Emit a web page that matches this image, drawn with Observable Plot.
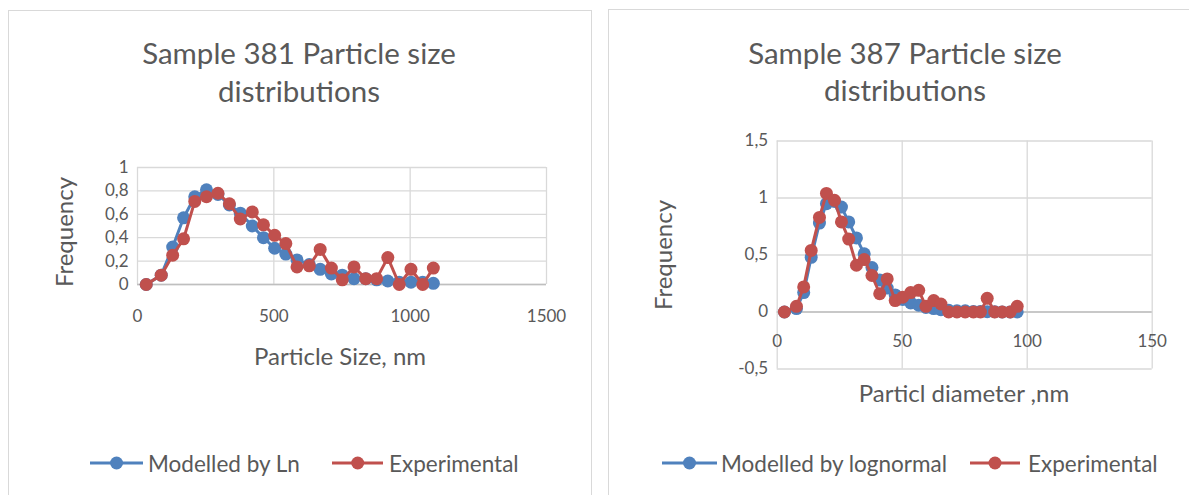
<!DOCTYPE html>
<html>
<head>
<meta charset="utf-8">
<script src="https://cdn.jsdelivr.net/npm/d3@7"></script>
<script src="https://cdn.jsdelivr.net/npm/@observablehq/plot@0.6"></script>
<style>
  body { margin: 0; background: #fff; width: 1189px; height: 495px; overflow: hidden; position: relative;
         font-family: Lato, "Open Sans", sans-serif; color: #595959; }
  .panel { position: absolute; border: 1px solid #d9d9d9; background: #fff; }
  .t { position: absolute; white-space: nowrap; transform: translate(-50%, -50%); }
  .title { font-size: 29.5px; }
  .axt { font-size: 24px; }
  .rot { transform: translate(-50%, -50%) rotate(-90deg); }
  .leg { position: absolute; font-size: 22.5px; white-space: nowrap; transform: translateY(-50%); }
  .sw { position: absolute; }
  .chart { position: absolute; }
</style>
</head>
<body>
<div class="panel" style="left:8px;top:10px;width:582px;height:500px"></div>
<div class="panel" style="left:608px;top:9px;width:600px;height:500px"></div>

<div class="t title" style="left:299px;top:52px">Sample 381 Particle size</div>
<div class="t title" style="left:299px;top:90px">distributions</div>
<div class="t title" style="left:905px;top:52px">Sample 387 Particle size</div>
<div class="t title" style="left:905px;top:89px">distributions</div>

<div class="t axt rot" style="left:63px;top:232px">Frequency</div>
<div class="t axt" style="left:340px;top:355px">Particle Size, nm</div>
<div class="t axt rot" style="left:662px;top:255px">Frequency</div>
<div class="t axt" style="left:964px;top:392px">Particl diameter ,nm</div>

<div id="left" class="chart" style="left:8px;top:130px"></div>
<div id="right" class="chart" style="left:610px;top:110px"></div>

<div id="legends"></div>

<script>
// Sample 381: particle size (nm) with modelled (Ln) and experimental frequencies
const size381 = [32, 87, 129, 169, 210, 253, 295, 337, 377, 421, 462, 503, 544, 585, 630, 670, 711, 751, 794, 837, 877, 918, 960, 1003, 1046, 1085];
const model381 = [0.0, 0.08, 0.32, 0.57, 0.75, 0.81, 0.77, 0.68, 0.61, 0.50, 0.40, 0.31, 0.26, 0.21, 0.17, 0.13, 0.09, 0.08, 0.05, 0.05, 0.04, 0.03, 0.02, 0.02, 0.02, 0.01];
const exp381 = [0.0, 0.08, 0.25, 0.39, 0.71, 0.75, 0.78, 0.69, 0.56, 0.62, 0.51, 0.42, 0.35, 0.15, 0.16, 0.30, 0.14, 0.04, 0.15, 0.05, 0.05, 0.23, 0.0, 0.13, 0.0, 0.14];

// Sample 387: particle diameter (nm) with lognormal model and experimental frequencies
const diam387 = [2.9, 7.7, 10.6, 13.6, 16.9, 19.7, 22.9, 25.7, 28.6, 31.7, 34.8, 37.9, 41.0, 44.0, 47.2, 50.2, 53.4, 56.6, 59.5, 62.6, 65.5, 68.6, 71.9, 75.2, 78.5, 81.3, 84.0, 87.0, 90.0, 93.2, 96.0];
const model387 = [0.0, 0.03, 0.17, 0.48, 0.78, 0.95, 0.97, 0.92, 0.79, 0.65, 0.51, 0.39, 0.28, 0.21, 0.15, 0.11, 0.08, 0.06, 0.04, 0.03, 0.02, 0.015, 0.01, 0.01, 0.005, 0.004, 0.003, 0.002, 0.001, 0.001, 0.001];
const exp387 = [0.0, 0.05, 0.22, 0.54, 0.83, 1.04, 0.98, 0.79, 0.64, 0.41, 0.46, 0.32, 0.16, 0.29, 0.10, 0.13, 0.17, 0.19, 0.05, 0.10, 0.07, 0.0, 0.0, 0.0, 0.0, 0.0, 0.12, 0.0, 0.0, 0.0, 0.05];

// Axis ticks
const xTicks381 = [0, 500, 1000, 1500];
const yTicks381 = [0, 0.2, 0.4, 0.6, 0.8, 1];
const xTicks387 = [0, 50, 100, 150];
const yTicks387 = [-0.5, 0, 0.5, 1, 1.5];

// Legend entries
const legend381 = ["Modelled by Ln", "Experimental"];
const legend387 = ["Modelled by lognormal", "Experimental"];

const BLUE = "#4f81bd";
const RED = "#c0504d";
const GRID = "#d9d9d9";
const AXIS = "#bfbfbf";
const TEXT = "#595959";
const commaFmt = d => String(d).replace(".", ",");

function rows(xs, ys) { return xs.map((x, i) => ({x, y: ys[i]})); }

function chart({width, height, margins, xDomain, yDomain, xTicks, yTicks, model, exp, labelDy}) {
  return Plot.plot({
    width, height,
    marginLeft: margins[0], marginRight: margins[1], marginTop: margins[2], marginBottom: margins[3],
    style: {fontFamily: "Lato, 'Open Sans', sans-serif", fontSize: "17px", color: TEXT, background: "transparent", overflow: "visible"},
    x: {domain: xDomain},
    y: {domain: yDomain},
    marks: [
      Plot.gridY(yTicks, {stroke: GRID, strokeOpacity: 1, strokeWidth: 1.3}),
      Plot.gridX(xTicks, {stroke: GRID, strokeOpacity: 1, strokeWidth: 1.3}),
      Plot.ruleY([0], {stroke: AXIS, strokeWidth: 1.5}),
      Plot.axisY(yTicks, {tickSize: 0, tickPadding: 9, tickFormat: commaFmt, fill: TEXT, label: null}),
      Plot.axisX({ticks: [], label: null, tickSize: 0}),
      Plot.text(xTicks, {x: d => d, y: () => 0, dy: labelDy, text: d => String(d), fill: TEXT, fontSize: 17}),
      Plot.line(model, {x: "x", y: "y", stroke: BLUE, strokeWidth: 3}),
      Plot.dot(model, {x: "x", y: "y", r: 6.5, fill: BLUE, stroke: null}),
      Plot.line(exp, {x: "x", y: "y", stroke: RED, strokeWidth: 3}),
      Plot.dot(exp, {x: "x", y: "y", r: 6.5, fill: RED, stroke: null})
    ]
  });
}

document.getElementById("left").append(chart({
  width: 583, height: 220, margins: [129, 45, 37, 66],
  xDomain: [0, 1500], yDomain: [0, 1],
  xTicks: xTicks381, yTicks: yTicks381,
  model: rows(size381, model381), exp: rows(size381, exp381), labelDy: 32
}));

document.getElementById("right").append(chart({
  width: 579, height: 290, margins: [166.7, 37.3, 30.5, 31.5],
  xDomain: [0, 150], yDomain: [-0.5, 1.5],
  xTicks: xTicks387, yTicks: yTicks387,
  model: rows(diam387, model387), exp: rows(diam387, exp387), labelDy: 30
}));

// Legend rows: line-with-marker swatch followed by the series name
function legendItem(parent, x0, x1, textX, y, color, label) {
  const w = x1 - x0;
  const svg = d3.select(parent).append("svg").attr("class", "sw")
    .attr("width", w).attr("height", 16)
    .style("left", x0 + "px").style("top", (y - 8) + "px");
  svg.append("line").attr("x1", 0).attr("x2", w).attr("y1", 8).attr("y2", 8)
    .attr("stroke", color).attr("stroke-width", 3);
  svg.append("circle").attr("cx", w / 2).attr("cy", 8).attr("r", 6.5).attr("fill", color);
  d3.select(parent).append("div").attr("class", "leg")
    .style("left", textX + "px").style("top", y + "px").text(label);
}
const legendRoot = document.getElementById("legends");
legendItem(legendRoot, 89.5, 142.6, 148, 463, BLUE, legend381[0]);
legendItem(legendRoot, 331.6, 383, 389, 463, RED, legend381[1]);
legendItem(legendRoot, 662, 717, 721, 463, BLUE, legend387[0]);
legendItem(legendRoot, 970, 1020, 1028, 463, RED, legend387[1]);
</script>
</body>
</html>
